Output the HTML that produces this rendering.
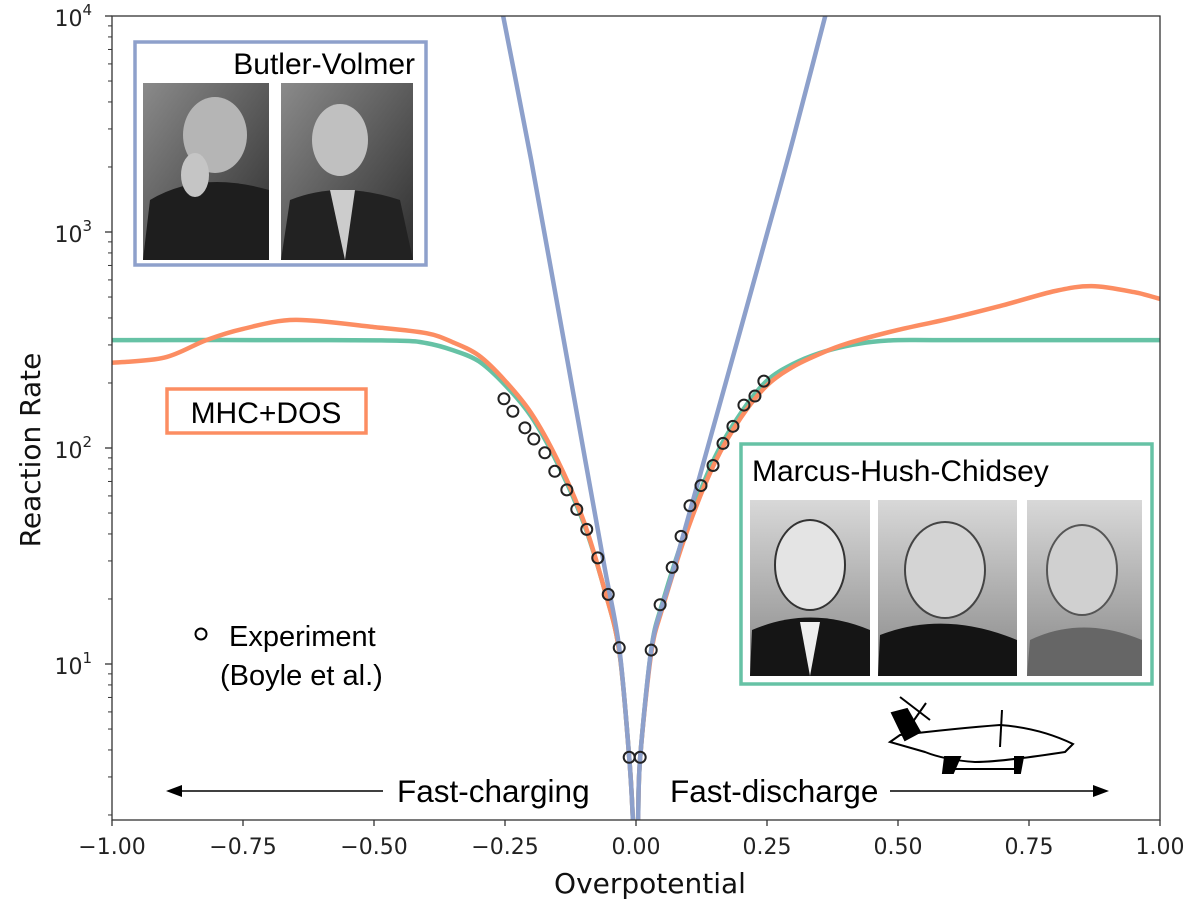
<!DOCTYPE html>
<html><head><meta charset="utf-8"><style>
body{margin:0;background:#fff;}
svg{display:block;font-family:"Liberation Sans",Arial,sans-serif;}
.dv{font-family:"DejaVu Sans","Liberation Sans",sans-serif;}
</style></head><body>
<svg id="chart" width="1200" height="921" viewBox="0 0 1200 921">
<defs>
<clipPath id="plotclip"><rect x="112" y="16" width="1048" height="804"/></clipPath>
<linearGradient id="g1" x1="0" y1="0" x2="1" y2="1"><stop offset="0" stop-color="#8a8a8a"/><stop offset="1" stop-color="#2e2e2e"/></linearGradient>
<linearGradient id="g2" x1="0" y1="0" x2="0" y2="1"><stop offset="0" stop-color="#d8d8d8"/><stop offset="1" stop-color="#888"/></linearGradient>
</defs>
<g id="curves" clip-path="url(#plotclip)"></g>
<g id="points"></g>
<g id="axes"></g>

<g>
<rect x="135" y="42" width="291" height="223" fill="#fff" stroke="#8ea0cb" stroke-width="3.5"/>
<text x="415" y="74" font-size="30" text-anchor="end" fill="#000">Butler-Volmer</text>
<g>
<rect x="143" y="83" width="126" height="177" fill="url(#g1)"/>
<ellipse cx="215" cy="135" rx="32" ry="38" fill="#b5b5b5"/>
<path d="M143 260 L150 200 Q200 170 269 190 L269 260Z" fill="#1e1e1e"/>
<ellipse cx="195" cy="175" rx="14" ry="22" fill="#c5c5c5"/>
</g>
<g>
<rect x="281" y="83" width="132" height="177" fill="url(#g1)"/>
<ellipse cx="340" cy="140" rx="28" ry="36" fill="#c0c0c0"/>
<path d="M281 260 L290 200 Q340 180 400 200 L413 260Z" fill="#222"/>
<path d="M330 190 L345 260 L355 190Z" fill="#ccc"/>
</g>
</g>

<g>
<rect x="167" y="389" width="199" height="44" fill="#fff" stroke="#fc8d62" stroke-width="3.5"/>
<text x="266" y="423" font-size="30" text-anchor="middle">MHC+DOS</text>
</g>

<g>
<rect x="741" y="444" width="411" height="240" fill="#fff" stroke="#66c2a5" stroke-width="3.5"/>
<text x="752" y="481" font-size="30">Marcus-Hush-Chidsey</text>
<g>
<rect x="750" y="500" width="120" height="176" fill="url(#g2)"/>
<ellipse cx="810" cy="565" rx="35" ry="45" fill="#e4e4e4" stroke="#333" stroke-width="2"/>
<path d="M750 676 L752 630 Q810 605 870 630 L870 676Z" fill="#151515"/>
<path d="M800 622 L810 676 L820 622Z" fill="#eee"/>
</g>
<g>
<rect x="878" y="500" width="139" height="176" fill="url(#g2)"/>
<ellipse cx="945" cy="570" rx="40" ry="48" fill="#d4d4d4" stroke="#444" stroke-width="2"/>
<path d="M878 676 L880 635 Q945 610 1017 640 L1017 676Z" fill="#141414"/>
</g>
<g>
<rect x="1027" y="500" width="115" height="176" fill="url(#g2)"/>
<ellipse cx="1082" cy="570" rx="35" ry="45" fill="#d0d0d0" stroke="#555" stroke-width="2"/>
<path d="M1027 676 L1030 640 Q1082 615 1142 640 L1142 676Z" fill="#666"/>
</g>
</g>

<g>
<circle cx="201" cy="634" r="5.5" fill="none" stroke="#000" stroke-width="2"/>
<text x="229" y="646" font-size="29">Experiment</text>
<text x="220" y="685" font-size="29">(Boyle et al.)</text>
</g>

<g stroke="#000" stroke-width="2" fill="none">
<path d="M890 742 L900 735 Q960 728 1000 725 Q1040 728 1073 744 L1065 752 Q1000 762 975 762 Q945 760 925 752 Z" fill="#fff"/>
<path d="M892 713 L907 709 L920 732 L905 740 Z" fill="#000"/>
<line x1="900" y1="697" x2="930" y2="720"/>
<line x1="912" y1="723" x2="926" y2="703"/>
<line x1="1002" y1="710" x2="1000" y2="747"/>
<path d="M945 757 L960 757 L953 773 L943 773Z" fill="#000"/>
<path d="M1015 757 L1023 757 L1020 773 L1015 773Z" fill="#000"/>
<line x1="953" y1="769" x2="1018" y2="769"/>
</g>

<g>
<line x1="180" y1="791" x2="383" y2="791" stroke="#000" stroke-width="1.5"/>
<polygon points="166,791 182,785 182,797" fill="#000"/>
<text x="397" y="802" font-size="31.5">Fast-charging</text>
</g>
<g>
<text x="670" y="802" font-size="31.5">Fast-discharge</text>
<line x1="890" y1="791" x2="1095" y2="791" stroke="#000" stroke-width="1.5"/>
<polygon points="1109,791 1093,785 1093,797" fill="#000"/>
</g>

<text class="dv" x="650" y="893" font-size="28" text-anchor="middle" fill="#111">Overpotential</text>
<text class="dv" x="40" y="450" font-size="28" text-anchor="middle" fill="#111" transform="rotate(-90 40 450)">Reaction Rate</text>
</svg>
<script>
const bvX = [-0.27,-0.2,-0.15,-0.1,-0.06,-0.032,-0.013,-0.006,-0.003, 0.002,0.004,0.008,0.029,0.05,0.069,0.1,0.15,0.2,0.25,0.3,0.38];
const bvY = [16000,2150,460,97,28,11.9,3.7,1.9,1.0, 1.0,1.9,3.7,11.6,18.5,26,48,131,357,980,2700,15000];
const mhcX = [-1.0,-0.6,-0.45,-0.4,-0.35,-0.3,-0.25,-0.2,-0.15,-0.1,-0.06,-0.032,-0.013,-0.006,-0.003, 0.002,0.004,0.008,0.029,0.05,0.1,0.15,0.2,0.25,0.3,0.35,0.4,0.45,0.5,0.6,1.0];
const mhcY = [316,316,314,306,284,252,196,140,85,45,22,11.5,3.7,1.9,1.0, 1.0,1.9,3.7,11.6,19,45,90,145,205,245,275,296,310,316,316,316];
const dosX = [-1.0,-0.9,-0.82,-0.75,-0.65,-0.5,-0.4,-0.35,-0.3,-0.25,-0.2,-0.15,-0.1,-0.06,-0.032,-0.013,-0.006,-0.003, 0.002,0.004,0.008,0.029,0.05,0.1,0.15,0.2,0.25,0.3,0.35,0.4,0.5,0.6,0.7,0.8,0.87,0.95,1.0];
const dosY = [248,262,316,356,392,363,340,309,268,205,145,88,46,22,11.5,3.7,1.9,1.0, 1.0,1.9,3.7,11.2,18,43,85,138,195,238,272,303,352,398,458,533,562,527,490];
const expX = [-0.252,-0.235,-0.212,-0.195,-0.174,-0.155,-0.132,-0.113,-0.094,-0.073,-0.053,-0.032,-0.013, 0.008,0.029,0.046,0.069,0.086,0.103,0.124,0.147,0.166,0.185,0.206,0.227,0.244];
const expY = [169,148,124,110,95,78,64,52,42,31,21,11.9,3.7, 3.7,11.6,18.8,28,39,54,67,83,105,126,158,174,204];
const xTicks = [-1.0,-0.75,-0.5,-0.25,0.0,0.25,0.5,0.75,1.0];
const xTickLabels = ["\u22121.00","\u22120.75","\u22120.50","\u22120.25","0.00","0.25","0.50","0.75","1.00"];
const yTicks = [1,2,3,4];

const NS="http://www.w3.org/2000/svg";
const X0=112,X1=1160,Ytop=16,PXD=216;
const sx=v=>X0+(v+1)/2*(X1-X0);
const sy=v=>Ytop+(4-Math.log10(v))*PXD;
function mk(tag,attrs,parent){const e=document.createElementNS(NS,tag);for(const k in attrs)e.setAttribute(k,attrs[k]);parent.appendChild(e);return e;}
function smooth(xs,ys){
  const p=xs.map((x,i)=>[sx(x),sy(ys[i])]);
  let d="M"+p[0][0].toFixed(1)+" "+p[0][1].toFixed(1);
  for(let i=0;i<p.length-1;i++){
    const p0=p[Math.max(0,i-1)],p1=p[i],p2=p[i+1],p3=p[Math.min(p.length-1,i+2)];
    const t=0.16;
    const c1=[p1[0]+(p2[0]-p0[0])*t,p1[1]+(p2[1]-p0[1])*t];
    const c2=[p2[0]-(p3[0]-p1[0])*t,p2[1]-(p3[1]-p1[1])*t];
    d+=" C"+c1.map(v=>v.toFixed(1)).join(" ")+" "+c2.map(v=>v.toFixed(1)).join(" ")+" "+p2[0].toFixed(1)+" "+p2[1].toFixed(1);
  }
  return d;
}
const cg=document.getElementById('curves');
const lg=mk('path',{d:smooth(mhcX,mhcY),fill:'none',stroke:'#66c2a5','stroke-width':4.5},cg);


const lo=mk('path',{d:smooth(dosX,dosY),fill:'none',stroke:'#fc8d62','stroke-width':4.5},cg);


const lb=mk('path',{d:smooth(bvX,bvY),fill:'none',stroke:'#8da0cb','stroke-width':4.5},cg);



const pg=document.getElementById('points');
expX.forEach((x,i)=>{
  const c=mk('circle',{cx:sx(x),cy:sy(expY[i]),r:5.5,fill:'none',stroke:'#222','stroke-width':2},pg);
  
  
});

const ag=document.getElementById('axes');
const frame=mk('rect',{x:X0,y:Ytop,width:X1-X0,height:820-Ytop,fill:'none',stroke:'#333','stroke-width':1.3},ag);


xTicks.forEach((v,i)=>{
  mk('line',{x1:sx(v),x2:sx(v),y1:820,y2:826,stroke:'#333','stroke-width':1.3},ag);
  const t=mk('text',{x:sx(v),y:854,'font-size':22,'text-anchor':'middle',fill:'#222',class:'dv'},ag);
  t.textContent=xTickLabels[i];
  
  
});
yTicks.forEach(e=>{
  const y=sy(Math.pow(10,e));
  mk('line',{x1:105,x2:112,y1:y,y2:y,stroke:'#333','stroke-width':1.3},ag);
  const t=mk('text',{x:92,y:y+10,'font-size':22,'text-anchor':'end',fill:'#222',class:'dv'},ag);
  t.textContent="10";
  const s=mk('tspan',{dy:-11,'font-size':15},t);s.textContent=String(e);
  
  
});
for(let e=0;e<4;e++)for(let m=2;m<=9;m++){
  const y=sy(m*Math.pow(10,e));
  if(y<=820&&y>=Ytop)mk('line',{x1:108,x2:112,y1:y,y2:y,stroke:'#333','stroke-width':1},ag);
}
</script>
</body></html>
